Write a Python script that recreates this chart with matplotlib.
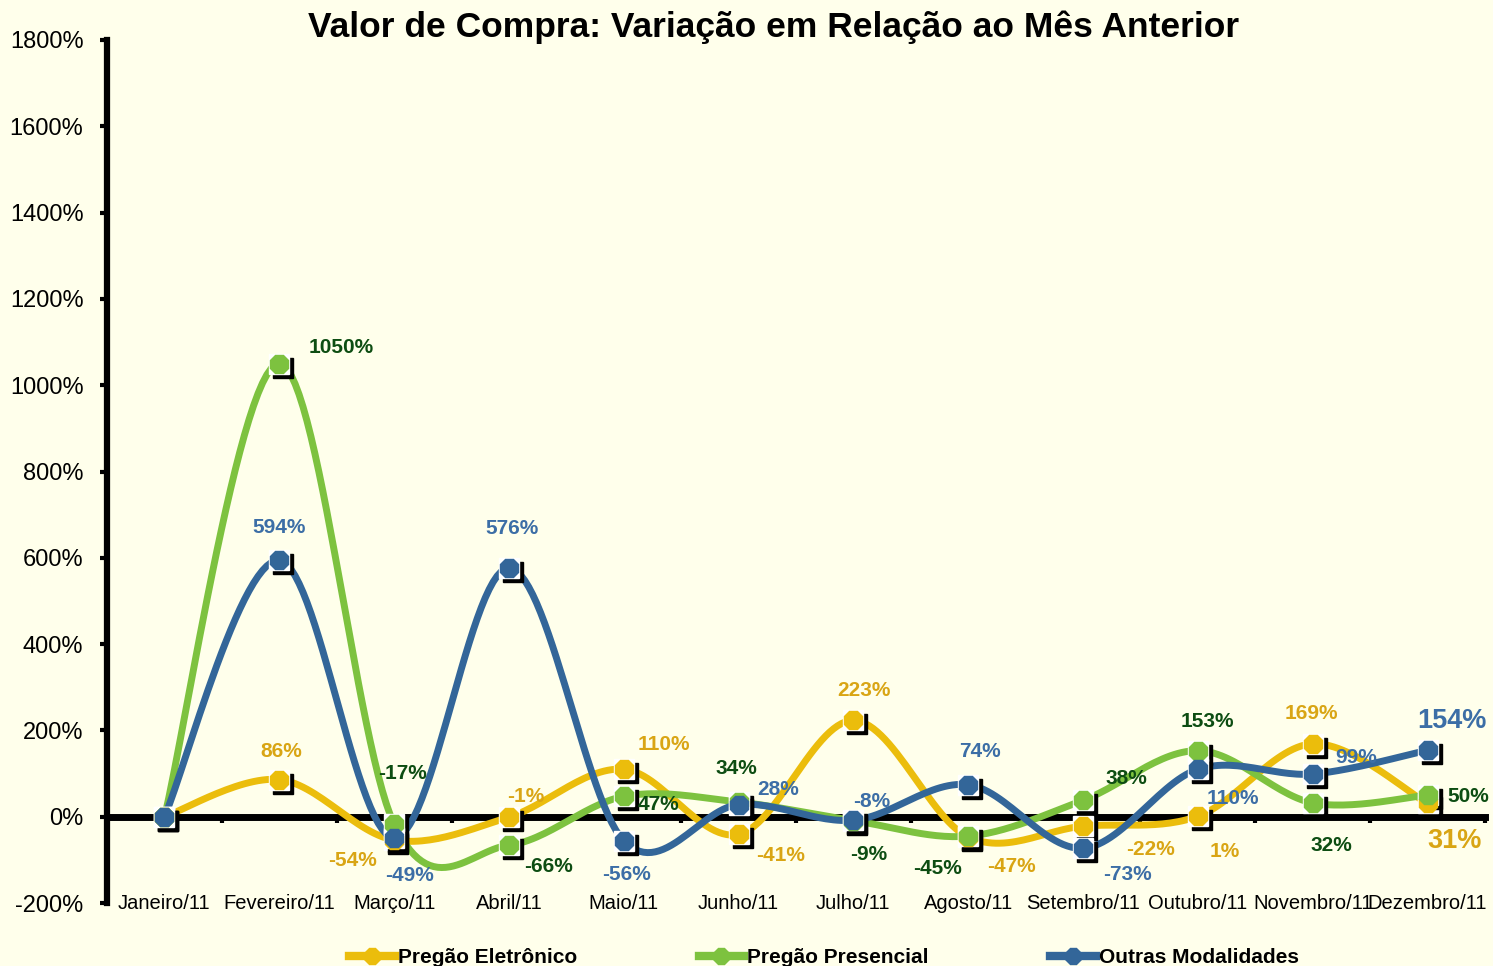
import numpy as np
import matplotlib
matplotlib.use("Agg")
import matplotlib.pyplot as plt
from matplotlib.transforms import offset_copy

plt.rcParams['font.family'] = ['Liberation Sans', 'DejaVu Sans']

meses = ['Janeiro/11', 'Fevereiro/11', 'Março/11', 'Abril/11', 'Maio/11', 'Junho/11',
         'Julho/11', 'Agosto/11', 'Setembro/11', 'Outubro/11', 'Novembro/11', 'Dezembro/11']
eletronico = [0, 86, -54, -1, 110, -41, 223, -47, -22, 1, 169, 31]
presencial = [0, 1050, -17, -66, 47, 34, -9, -45, 38, 153, 32, 50]
outras = [0, 594, -49, 576, -56, 28, -8, 74, -73, 110, 99, 154]
y_ticks = list(range(-200, 1801, 200))

# label offsets in pixels (dx, dy), None = no label
off_ele = [None, (2, 28), (-42, -20), (17, 21), (40, 25), (42, -21), (11, 30),
           (43, -30), (67, -23), (27, -35), (-1, 30), (27, -38)]
off_pre = [None, (62, 16), (8, 51), (40, -21), (35, -8), (-2, 34), (15, -34),
           (-31, -32), (43, 22), (9, 29), (19, -43), (41, -1)]
off_out = [None, (0, 33), (15, -38), (3, 40), (3, -34), (40, 15), (18, 19),
           (12, 33), (44, -26), (35, -29), (43, 16), (24, 29)]

BG = '#FFFFEB'


def smooth(y, n=30):
    # Excel-like smoothed line: cubic bezier, control points from neighbours
    x = np.arange(len(y), dtype=float)
    y = np.asarray(y, dtype=float)
    px, py = [], []
    for i in range(len(y) - 1):
        i0 = max(i - 1, 0)
        i3 = min(i + 2, len(y) - 1)
        p0 = np.array([x[i0], y[i0]]); p1 = np.array([x[i], y[i]])
        p2 = np.array([x[i + 1], y[i + 1]]); p3 = np.array([x[i3], y[i3]])
        c1 = p1 + (p2 - p0) / 6
        c2 = p2 - (p3 - p1) / 6
        t = np.linspace(0, 1, n)[:, None]
        b = (1 - t) ** 3 * p1 + 3 * (1 - t) ** 2 * t * c1 + 3 * (1 - t) * t ** 2 * c2 + t ** 3 * p2
        px.extend(b[:, 0]); py.extend(b[:, 1])
    return np.array(px), np.array(py)


fig = plt.figure(figsize=(14.93, 9.66), dpi=100, facecolor=BG)
ax = fig.add_axes([0.0717, 0.0652, 0.9229, 0.8934])
ax.set_facecolor(BG)

ax.set_xlim(-0.5, 11.5)
ax.set_ylim(-200, 1800)

x = np.arange(len(meses))
series = [
    ('Pregão Eletrônico', eletronico, '#EBBD0C', '#D9A514', off_ele),
    ('Pregão Presencial', presencial, '#7DC23F', '#0D4D12', off_pre),
    ('Outras Modalidades', outras, '#336699', '#3C6EA6', off_out),
]

shadow_tr = offset_copy(ax.transData, fig=fig, x=4, y=-4, units='dots')
handles = []
for nome, vals, cor, cor_lbl, offs in series:
    sx, sy = smooth(vals)
    ax.plot(sx, sy, color=cor, lw=5, solid_capstyle='round', zorder=3)
    ax.plot(x, vals, ls='none', marker='s', ms=14, mfc='black', mec='black',
            transform=shadow_tr, zorder=4)
    ax.plot(x, vals, ls='none', marker='s', ms=14, mfc='white', mec='white', zorder=4)
    ax.plot(x, vals, ls='none', marker='8', ms=14, mfc=cor, mec=cor, zorder=5)
    handles.append((nome, cor))
    for i, v in enumerate(vals):
        if offs[i] is None:
            continue
        big = i == len(vals) - 1 and nome != 'Pregão Presencial'
        ax.annotate(f'{v}%', (i, v), xytext=offs[i], textcoords='offset pixels',
                    ha='center', va='center', fontsize=19.5 if big else 15,
                    fontweight='bold', color=cor_lbl, zorder=6)

# axes styling
for s in ['top', 'right']:
    ax.spines[s].set_visible(False)
ax.spines['left'].set_linewidth(4.5)
ax.spines['bottom'].set_position(('data', 0))
ax.spines['bottom'].set_linewidth(5)
ax.spines['bottom'].set_zorder(2)

ax.set_yticks(y_ticks)
ax.set_yticklabels([f'{t}%' for t in y_ticks], fontsize=17)
ax.tick_params(axis='y', direction='out', length=5, width=3, pad=12)

ax.set_xticks(x)
ax.set_xticklabels([])
ax.tick_params(axis='x', which='major', length=0)
ax.set_xticks(np.arange(0.5, 12, 1), minor=True)
ax.tick_params(axis='x', which='minor', direction='out', length=4, width=3)

for i, m in enumerate(meses):
    ax.text(i, 0.0, m, transform=ax.get_xaxis_transform(), ha='center', va='center',
            fontsize=14.5)

fig.text(0.518, 0.972, 'Valor de Compra: Variação em Relação ao Mês Anterior',
         ha='center', va='center', fontsize=25.5, fontweight='bold')

leg_handles = [plt.Line2D([], [], color=c, lw=6, marker='8', ms=12) for _, c in handles]
fig.legend(leg_handles, [n for n, _ in handles], loc='center', bbox_to_anchor=(0.552, 0.009),
           ncol=3, frameon=False, handlelength=2.2, handletextpad=0.15, columnspacing=5.8,
           prop={'weight': 'bold', 'size': 15})

fig.savefig('out.png', dpi=100, facecolor=BG)
